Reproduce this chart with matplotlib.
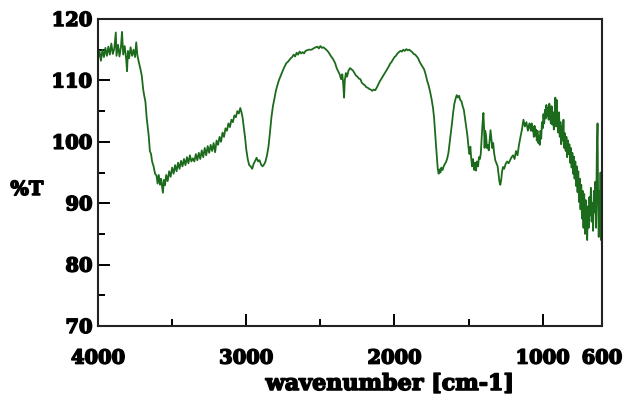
import matplotlib
matplotlib.use("Agg")
import matplotlib.pyplot as plt
import matplotlib.patheffects as pe
from matplotlib.ticker import MultipleLocator, FixedLocator

wavenumber = [
    4000, 3990, 3980, 3970, 3960, 3950, 3940, 3930, 3920, 3910, 3900, 3890, 3880, 3875, 3865, 3855,
    3845, 3838, 3830, 3820, 3810, 3804, 3798, 3790, 3780, 3770, 3760, 3750, 3742, 3735, 3725, 3715,
    3705, 3695, 3688, 3680, 3672, 3665, 3658, 3650, 3642, 3635, 3625, 3615, 3605, 3598, 3590, 3582,
    3575, 3568, 3562, 3556, 3548, 3540, 3530, 3520, 3510, 3500, 3490, 3480, 3470, 3460, 3450, 3440,
    3430, 3420, 3410, 3400, 3390, 3380, 3370, 3360, 3350, 3340, 3330, 3320, 3310, 3300, 3290, 3280,
    3270, 3260, 3250, 3240, 3230, 3220, 3210, 3200, 3190, 3180, 3170, 3160, 3150, 3140, 3130, 3120,
    3110, 3100, 3090, 3080, 3070, 3060, 3050, 3040, 3032, 3025, 3015, 3007, 3000, 2990, 2980, 2970,
    2960, 2950, 2940, 2930, 2920, 2910, 2900, 2890, 2880, 2870, 2860, 2850, 2840, 2830, 2820, 2810,
    2800, 2790, 2780, 2770, 2760, 2750, 2740, 2730, 2720, 2710, 2700, 2690, 2680, 2670, 2660, 2650,
    2640, 2630, 2620, 2610, 2600, 2580, 2560, 2540, 2520, 2510, 2500, 2490, 2480, 2460, 2445, 2430,
    2415, 2400, 2390, 2380, 2370, 2360, 2352, 2346, 2340, 2335, 2328, 2320, 2310, 2300, 2290, 2280,
    2270, 2260, 2250, 2240, 2230, 2220, 2210, 2200, 2190, 2180, 2170, 2160, 2150, 2140, 2130, 2120,
    2110, 2100, 2090, 2080, 2070, 2060, 2050, 2040, 2030, 2020, 2010, 2000, 1990, 1980, 1970, 1960,
    1950, 1940, 1930, 1920, 1910, 1900, 1890, 1880, 1870, 1860, 1850, 1840, 1830, 1820, 1810, 1800,
    1790, 1780, 1770, 1760, 1750, 1740, 1733, 1726, 1720, 1714, 1708, 1702, 1696, 1690, 1684, 1676,
    1668, 1660, 1652, 1644, 1636, 1628, 1620, 1612, 1604, 1596, 1588, 1580, 1572, 1564, 1556, 1548,
    1540, 1532, 1524, 1516, 1508, 1500, 1494, 1488, 1482, 1476, 1470, 1462, 1456, 1450, 1444, 1436,
    1430, 1424, 1418, 1412, 1406, 1400, 1396, 1392, 1388, 1382, 1376, 1370, 1364, 1358, 1352, 1346,
    1340, 1334, 1328, 1320, 1312, 1304, 1298, 1292, 1286, 1280, 1274, 1268, 1260, 1250, 1240, 1230,
    1220, 1210, 1200, 1190, 1180, 1170, 1160, 1150, 1140, 1130, 1120, 1110, 1100, 1090, 1080, 1075,
    1070, 1065, 1060, 1055, 1050, 1045, 1040, 1035, 1030, 1025, 1020, 1015, 1010, 1005, 1000, 995,
    990, 985, 980, 975, 970, 965, 960, 955, 950, 945, 940, 935, 930, 925, 920, 915,
    910, 905, 900, 895, 890, 885, 880, 875, 870, 865, 860, 855, 850, 845, 840, 835,
    830, 825, 820, 815, 810, 805, 800, 795, 790, 785, 780, 775, 770, 765, 760, 755,
    750, 745, 740, 735, 730, 725, 720, 715, 710, 705, 700, 695, 690, 685, 680, 675,
    670, 665, 660, 655, 650, 645, 640, 635, 630, 626, 622, 618, 614, 610, 606, 603, 600,
]

transmittance = [
    113.5, 114.8, 113.2, 115.0, 113.8, 115.3, 114.0, 115.5, 114.2, 116.0, 114.3, 115.2, 117.8, 114.0, 115.8, 113.9,
    115.5, 117.9, 114.2, 115.6, 113.5, 111.5, 114.8, 113.6, 115.4, 114.0, 115.0, 113.8, 116.2, 114.2, 113.0, 112.0,
    110.8, 108.5, 107.5, 106.5, 104.0, 102.5, 101.0, 98.5, 98.0, 96.8, 96.0, 94.8, 94.5, 93.2, 94.6, 93.0,
    94.0, 92.8, 91.7, 93.8, 92.9, 94.6, 93.6, 95.2, 94.3, 95.8, 94.8, 96.2, 95.2, 96.6, 95.6, 96.9,
    96.0, 97.2, 96.2, 97.5, 96.5, 97.8, 96.8, 97.3, 96.8, 98.0, 97.0, 98.2, 97.2, 98.6, 97.5, 99.0,
    97.8, 99.3, 98.2, 99.5, 98.5, 99.8, 98.3, 100.2, 99.5, 100.8, 100.0, 101.5, 100.8, 102.2, 101.8, 103.0,
    102.4, 103.6, 103.2, 104.3, 104.0, 105.0, 104.6, 105.5, 104.8, 104.0, 102.0, 100.5, 98.8, 97.2, 96.2, 96.0,
    95.6, 96.4, 96.9, 97.4, 96.8, 97.0, 96.3, 96.0, 96.3, 96.8, 97.8, 99.2, 101.5, 104.0, 105.8, 107.0,
    108.3, 109.2, 110.0, 110.6, 111.2, 111.8, 112.3, 112.8, 113.0, 113.3, 113.6, 113.8, 114.2, 113.9, 114.5, 114.2,
    114.7, 114.4, 114.6, 114.4, 114.8, 115.0, 115.0, 115.3, 115.5, 115.2, 115.6, 115.3, 115.4, 115.0, 114.6, 114.0,
    113.5, 112.8, 112.0, 111.5, 111.0, 110.2, 111.0, 109.5, 107.2, 110.0, 111.2, 110.6, 111.6, 112.0, 111.8, 111.6,
    111.2, 110.8, 110.6, 110.3, 110.2, 109.6, 109.4, 109.2, 108.9, 108.8, 108.6, 108.5, 108.3, 108.5, 108.4, 108.8,
    109.3, 109.8, 110.2, 110.6, 111.0, 111.4, 111.8, 112.2, 112.7, 113.0, 113.4, 113.8, 114.0, 114.4, 114.6, 114.8,
    114.7, 115.0, 114.8, 115.1, 114.9, 115.0, 114.8, 114.6, 114.3, 114.2, 113.9, 113.6, 113.0, 112.6, 112.2, 111.8,
    111.0, 110.0, 109.2, 108.2, 107.0, 105.5, 104.0, 101.5, 99.5, 97.5, 95.6, 94.8, 95.5, 95.0, 95.8, 95.4,
    96.0, 96.4, 96.7, 97.3, 98.2, 99.8, 101.5, 103.0, 104.8, 106.2, 107.0, 107.6, 107.2, 107.5, 106.8, 106.6,
    105.8, 105.2, 103.8, 102.5, 101.0, 99.0, 98.0, 99.2, 97.2, 96.0, 97.2, 95.4, 96.6, 95.3, 96.8, 96.0,
    97.5, 97.2, 98.0, 100.5, 103.0, 104.7, 102.5, 99.0, 101.8, 101.0, 99.0, 99.5, 98.6, 100.2, 101.9, 100.5,
    99.0, 99.8, 98.2, 97.0, 96.5, 96.0, 94.8, 93.5, 93.0, 93.8, 95.2, 95.9, 95.6, 96.4, 96.8, 96.5,
    97.0, 97.5, 97.8, 97.2, 98.5, 97.8, 99.5, 100.8, 102.0, 103.6, 102.5, 103.2, 101.8, 103.0, 101.8, 103.0,
    101.8, 102.4, 100.8, 102.6, 101.0, 102.0, 100.2, 101.8, 99.8, 101.0, 99.5, 101.8, 100.5, 103.2, 102.2, 104.5,
    103.0, 105.2, 103.8, 106.0, 104.2, 105.5, 103.6, 106.2, 104.0, 103.0, 105.8, 102.8, 104.8, 102.0, 104.2, 107.2,
    102.5, 106.8, 103.0, 101.5, 104.8, 100.8, 103.2, 99.6, 102.5, 100.2, 103.6, 99.0, 101.4, 98.5, 100.8, 97.5,
    100.2, 98.0, 99.6, 96.6, 99.0, 95.8, 98.2, 94.8, 97.6, 94.0, 96.8, 92.8, 96.0, 91.8, 95.2, 90.2,
    94.0, 89.0, 93.0, 87.5, 92.0, 86.0, 91.5, 85.0, 90.5, 88.0, 84.0, 89.5, 86.0, 91.0, 88.0, 92.5,
    87.0, 90.0, 85.5, 92.0, 88.5, 93.5, 86.0, 98.0, 103.0, 90.0, 84.5, 92.0, 86.0, 95.0, 84.0, 88.0, 81.0,
]

x_major_ticks = [4000, 3000, 2000, 1000, 600]
x_tick_labels = ["4000", "3000", "2000", "1000", "600"]
y_major_ticks = [70, 80, 90, 100, 110, 120]

font = {"family": "DejaVu Serif", "weight": "bold"}
heavy = [pe.withStroke(linewidth=1.1, foreground="black")]

fig = plt.figure(figsize=(6.25, 3.95), dpi=100)
ax = fig.add_axes([98 / 625, 1 - 326 / 395, (602 - 98) / 625, (326 - 19) / 395])

ax.plot(wavenumber, transmittance, color="#1c6b1c", linewidth=1.3)

ax.set_xlim(4000, 600)
ax.set_ylim(70, 120)

ax.set_xticks(x_major_ticks)
ax.set_xticklabels(x_tick_labels, **font, fontsize=14)
ax.xaxis.set_minor_locator(FixedLocator([3500, 2500, 1500]))
ax.set_yticks(y_major_ticks)
ax.set_yticklabels([str(v) for v in y_major_ticks], **font, fontsize=14)
ax.yaxis.set_minor_locator(MultipleLocator(5))

for lbl in ax.get_xticklabels() + ax.get_yticklabels():
    lbl.set_path_effects(heavy)

ax.tick_params(axis="x", which="major", direction="in", length=8.5, width=1.4, pad=17)
ax.tick_params(axis="x", which="minor", direction="in", length=5, width=1.4)
ax.tick_params(axis="y", which="major", direction="in", length=8.5, width=1.4, pad=4)
ax.tick_params(axis="y", which="minor", direction="in", length=5, width=1.4)
ax.xaxis.get_major_ticks()[-1].tick1line.set_visible(False)

for s in ax.spines.values():
    s.set_linewidth(1.5)
    s.set_color("#222222")

fig.text(27 / 625, 1 - 190 / 395, "%T", ha="center", va="center", fontsize=14,
         path_effects=heavy, **font)
fig.text(390 / 625, 1 - 384 / 395, "wavenumber [cm-1]", ha="center", va="center", fontsize=16,
         path_effects=heavy, **font)

fig.savefig("out.png", dpi=100)
